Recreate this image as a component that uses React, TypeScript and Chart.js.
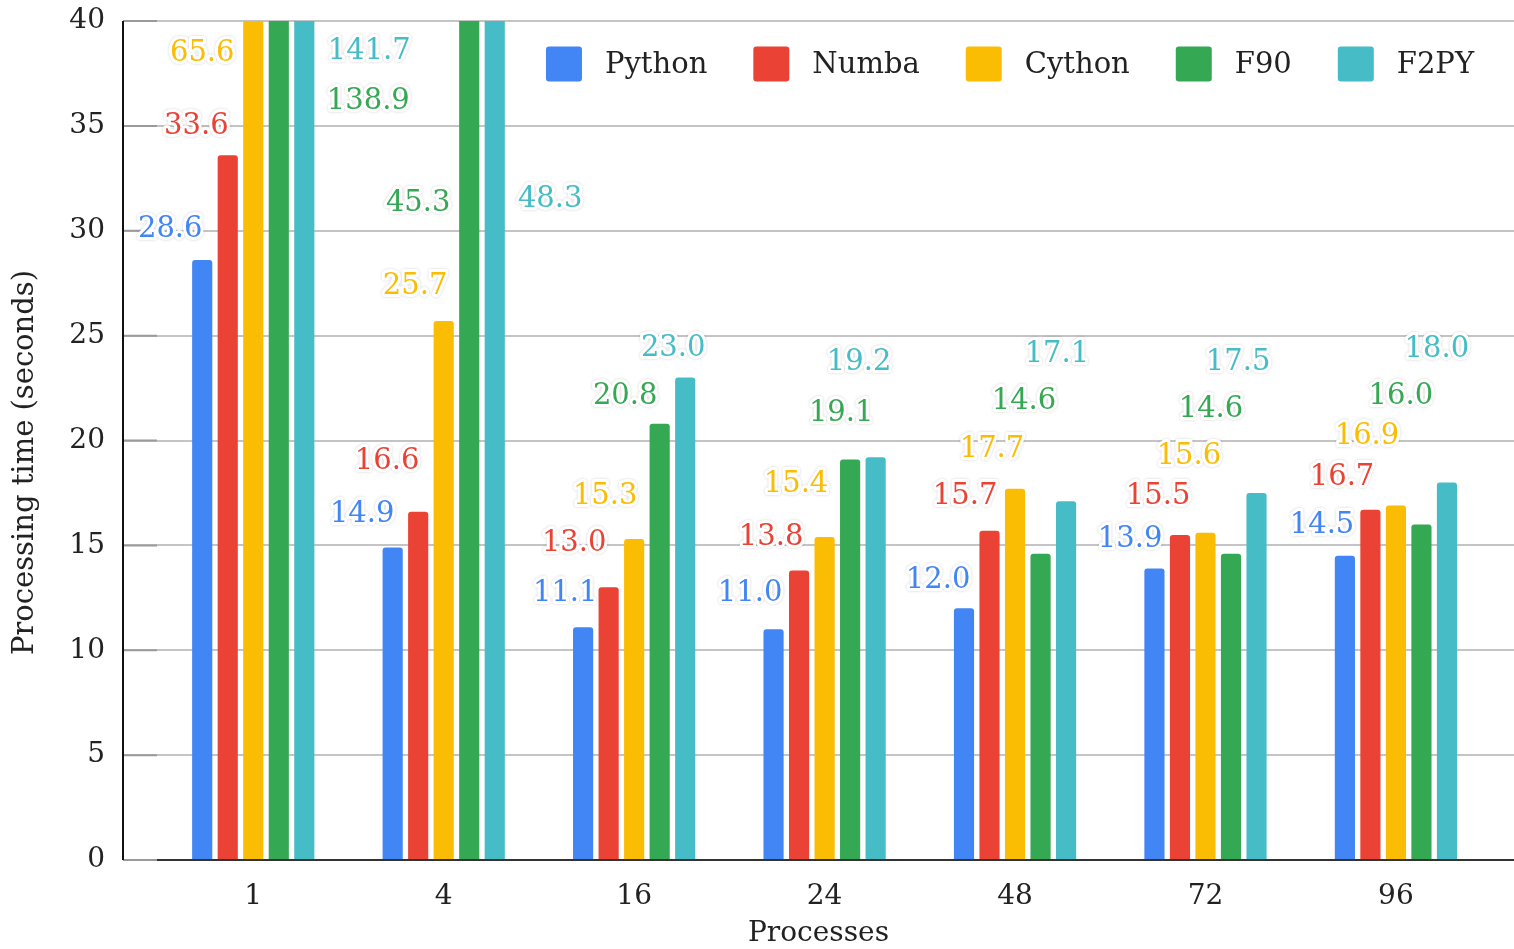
import React, { useEffect, useRef } from 'react';
import { Chart, registerables } from 'chart.js';

Chart.register(...registerables);

const CATEGORIES = ['1', '4', '16', '24', '48', '72', '96'];
const SERIES = ['Python', 'Numba', 'Cython', 'F90', 'F2PY'];
const PYTHON = [28.6, 14.9, 11.1, 11.0, 12.0, 13.9, 14.5];
const NUMBA = [33.6, 16.6, 13.0, 13.8, 15.7, 15.5, 16.7];
const CYTHON = [65.6, 25.7, 15.3, 15.4, 17.7, 15.6, 16.9];
const F90 = [138.9, 45.3, 20.8, 19.1, 14.6, 14.6, 16.0];
const F2PY = [141.7, 48.3, 23.0, 19.2, 17.1, 17.5, 18.0];
const VALUES = [PYTHON, NUMBA, CYTHON, F90, F2PY];
const COLORS = ['#4285F4', '#EA4335', '#FBBC04', '#34A853', '#46BDC6'];
const Y_MIN = 0;
const Y_MAX = 40;
const Y_STEP = 5;
const Y_TITLE = 'Processing time (seconds)';
const X_TITLE = 'Processes';

// Label anchor positions (x offset in category units from the group centre, y in axis units)
const LABEL_POS: number[][][] = [
  [[-0.436, 30.08], [-0.428, 16.45], [-0.362, 12.73], [-0.391, 12.73], [-0.404, 13.35], [-0.396, 15.3], [-0.388, 15.97]],
  [[-0.299, 34.95], [-0.297, 19.02], [-0.315, 15.07], [-0.281, 15.4], [-0.262, 17.31], [-0.249, 17.31], [-0.283, 18.26]],
  [[-0.268, 38.47], [-0.15, 27.32], [-0.152, 17.35], [-0.15, 17.88], [-0.121, 19.55], [-0.087, 19.26], [-0.152, 20.17]],
  [[0.604, 36.14], [-0.134, 31.28], [-0.047, 22.12], [0.087, 21.31], [0.047, 21.84], [0.029, 21.5], [0.026, 22.12]],
  [[0.609, 38.57], [0.559, 31.47], [0.205, 24.41], [0.181, 23.74], [0.22, 24.08], [0.171, 23.74], [0.215, 24.36]],
];

const FONT = "'DejaVu Serif', serif";

const decorPlugin = {
  id: 'decor',
  afterDatasetsDraw(chart: any) {
    const ctx = chart.ctx;
    const { left, right, bottom } = chart.chartArea;
    const y = chart.scales.y;
    ctx.save();
    ctx.strokeStyle = '#9a9a9a';
    ctx.lineWidth = 2;
    y.ticks.forEach((t: any) => {
      const py = y.getPixelForValue(t.value);
      ctx.beginPath();
      ctx.moveTo(left, py);
      ctx.lineTo(left + 34, py);
      ctx.stroke();
    });
    ctx.strokeStyle = '#333';
    ctx.beginPath();
    ctx.moveTo(left + 34, y.getPixelForValue(0));
    ctx.lineTo(right, y.getPixelForValue(0));
    ctx.stroke();
    ctx.strokeStyle = '#111';
    ctx.beginPath();
    ctx.moveTo(left, chart.chartArea.top);
    ctx.lineTo(left, bottom);
    ctx.stroke();
    ctx.restore();
  },
  afterDraw(chart: any) {
    const ctx = chart.ctx;
    const xs = chart.scales.x;
    const ys = chart.scales.y;
    ctx.save();
    // y axis title
    ctx.save();
    ctx.translate(25, (chart.chartArea.top + chart.chartArea.bottom) / 2 + 22);
    ctx.rotate(-Math.PI / 2);
    ctx.font = `29px ${FONT}`;
    ctx.fillStyle = '#222';
    ctx.textAlign = 'center';
    ctx.textBaseline = 'middle';
    ctx.fillText(Y_TITLE, 0, 0);
    ctx.restore();
    // data labels
    ctx.font = `29px ${FONT}`;
    ctx.textAlign = 'center';
    ctx.textBaseline = 'middle';
    ctx.lineJoin = 'round';
    VALUES.forEach((arr, si) => {
      arr.forEach((v, ci) => {
        const [dx, ly] = LABEL_POS[si][ci];
        const px = xs.getPixelForValue(ci + dx);
        const py = ys.getPixelForValue(ly);
        const txt = v.toFixed(1);
        ctx.shadowColor = 'rgba(0,0,0,0.18)';
        ctx.shadowBlur = 3;
        ctx.strokeStyle = '#fff';
        ctx.lineWidth = 6;
        ctx.strokeText(txt, px, py);
        ctx.shadowBlur = 0;
        ctx.shadowColor = 'transparent';
        ctx.fillStyle = COLORS[si];
        ctx.fillText(txt, px, py);
      });
    });
    // legend
    ctx.font = `29px ${FONT}`;
    ctx.textAlign = 'left';
    const boxW = 36, boxH = 35, gapText = 23, gapItem = 46;
    const widths = SERIES.map((s) => ctx.measureText(s).width);
    const total = widths.reduce((a, w) => a + boxW + gapText + w, 0) + gapItem * (SERIES.length - 1);
    let x = 1010 - total / 2;
    const cy = ys.getPixelForValue(37.95);
    SERIES.forEach((s, i) => {
      ctx.fillStyle = COLORS[i];
      ctx.beginPath();
      (ctx as any).roundRect(x, cy - boxH / 2, boxW, boxH, 3);
      ctx.fill();
      ctx.fillStyle = '#222';
      ctx.fillText(s, x + boxW + gapText, cy + 1);
      x += boxW + gapText + widths[i] + gapItem;
    });
    ctx.restore();
  },
};

export default function App() {
  const ref = useRef<HTMLCanvasElement>(null);
  useEffect(() => {
    const chart = new Chart(ref.current!, {
      type: 'bar',
      data: {
        datasets: SERIES.map((name, si) => ({
          label: name,
          data: VALUES[si].map((v, ci) => ({ x: ci, y: v })),
          backgroundColor: COLORS[si],
          borderWidth: 0,
          borderRadius: { topLeft: 3, topRight: 3, bottomLeft: 0, bottomRight: 0 },
          borderSkipped: 'bottom',
          categoryPercentage: 0.67,
          barPercentage: 0.79,
        })),
      },
      options: {
        animation: false,
        responsive: false,
        maintainAspectRatio: false,
        layout: { padding: { top: 21, right: 0, left: 0, bottom: 0 } },
        plugins: { legend: { display: false }, tooltip: { enabled: false } },
        scales: {
          x: {
            type: 'linear',
            min: -0.684,
            max: 6.62,
            offset: false,
            grid: { display: false, offset: false, drawTicks: false },
            border: { display: false },
            afterBuildTicks: (scale: any) => {
              scale.ticks = CATEGORIES.map((_, i) => ({ value: i }));
            },
            afterFit: (scale: any) => {
              scale.height = 89;
              scale.paddingLeft = 0;
              scale.paddingRight = 0;
            },
            ticks: {
              callback: (v: any) => CATEGORIES[v] ?? '',
              font: { family: FONT, size: 28 },
              color: '#222',
              padding: 20,
              maxRotation: 0,
              autoSkip: false,
            },
            title: {
              display: true,
              text: X_TITLE,
              font: { family: FONT, size: 28 },
              color: '#222',
              padding: { top: 0, bottom: -2 },
            },
          },
          y: {
            min: Y_MIN,
            max: Y_MAX,
            grid: { color: '#c4c4c4', lineWidth: 2, drawTicks: false },
            border: { display: false },
            afterFit: (scale: any) => {
              scale.width = 123;
              scale.paddingTop = 0;
              scale.paddingBottom = 0;
            },
            ticks: {
              stepSize: Y_STEP,
              font: { family: FONT, size: 28 },
              color: '#222',
              padding: 18,
            },
            title: { display: false },
          },
        },
      },
      plugins: [decorPlugin],
    } as any);
    return () => chart.destroy();
  }, []);
  return (
    <div style={{ position: 'fixed', left: 0, top: 0, width: 1514, height: 949, background: '#fff' }}>
      <canvas ref={ref} width={1514} height={949} />
    </div>
  );
}
